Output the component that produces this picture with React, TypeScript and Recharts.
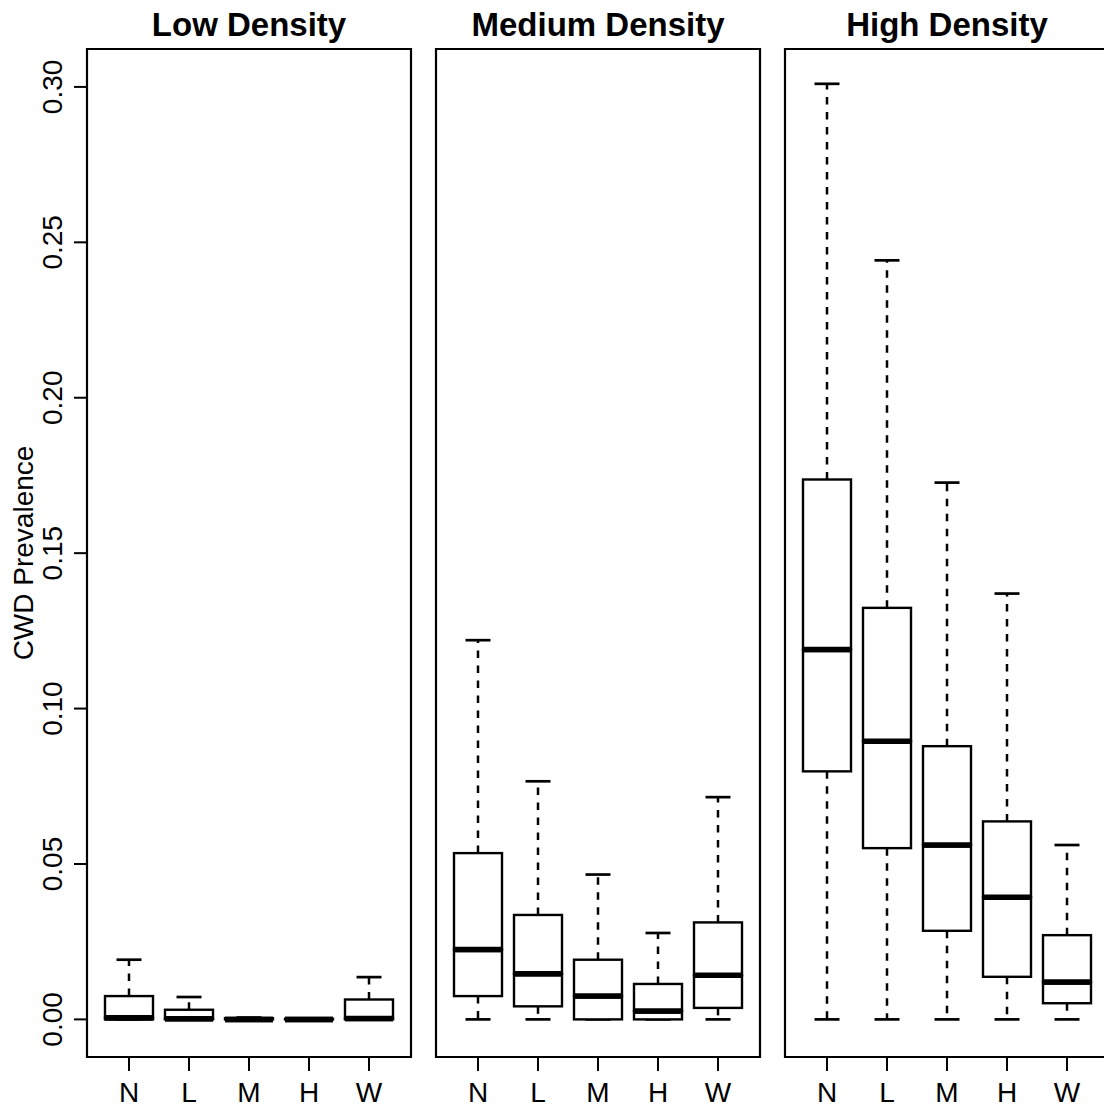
import React from 'react'
import { ComposedChart, Bar, XAxis, YAxis, ReferenceArea } from 'recharts'

// groups on the x axis, same for every panel
const groups = ['N', 'L', 'M', 'H', 'W']
const panelTitles = ['Low Density', 'Medium Density', 'High Density']
const yTicks = [0, 0.05, 0.1, 0.15, 0.2, 0.25, 0.3]

// box plot stats, order N L M H W
const lowMin = [0, 0, 0, 0, 0]
const lowQ1 = [0, 0, 0, 0, 0]
const lowMed = [0.0005, 0.0002, 0, 0, 0.0003]
const lowQ3 = [0.0075, 0.0031, 0.0004, 0.0002, 0.0064]
const lowMax = [0.0192, 0.0072, 0.0006, 0.0002, 0.0136]

const medMin = [0, 0, 0, 0, 0]
const medQ1 = [0.0075, 0.0042, 0, 0, 0.0037]
const medMed = [0.0225, 0.0147, 0.0075, 0.0027, 0.0142]
const medQ3 = [0.0535, 0.0336, 0.0192, 0.0114, 0.0312]
const medMax = [0.122, 0.0766, 0.0466, 0.0278, 0.0715]

const highMin = [0, 0, 0, 0, 0]
const highQ1 = [0.0798, 0.0551, 0.0285, 0.0137, 0.0052]
const highMed = [0.119, 0.0895, 0.0561, 0.0393, 0.012]
const highQ3 = [0.1737, 0.1324, 0.0879, 0.0637, 0.0271]
const highMax = [0.301, 0.2442, 0.1727, 0.137, 0.0561]

const Y_MIN = -0.0121
const Y_MAX = 0.3122
const X_MIN = 0.3
const X_MAX = 5.7
const FONT = '"Liberation Sans", Arial, Helvetica, sans-serif'

// stacked segments: base -> lower whisker -> lower box -> upper box -> upper whisker
const buildRows = (mn: number[], q1: number[], md: number[], q3: number[], mx: number[]) =>
  groups.map((g, i) => ({
    x: i + 1,
    name: g,
    base: mn[i],
    lowW: q1[i] - mn[i],
    lowBox: md[i] - q1[i],
    highBox: q3[i] - md[i],
    highW: mx[i] - q3[i]
  }))

const lowRows = buildRows(lowMin, lowQ1, lowMed, lowQ3, lowMax)
const medRows = buildRows(medMin, medQ1, medMed, medQ3, medMax)
const highRows = buildRows(highMin, highQ1, highMed, highQ3, highMax)

const CAP = 12.5
const DASH = '7.5 7.5'

const LowWhisker = (p: any) => {
  const { x, y, width, height } = p
  const cx = x + width / 2
  const bottom = y + height
  return (
    <g>
      {height > 0 && (
        <line x1={cx} x2={cx} y1={y} y2={bottom} stroke='#000' strokeWidth={2.5} strokeDasharray={DASH} />
      )}
      <line x1={cx - CAP} x2={cx + CAP} y1={bottom} y2={bottom} stroke='#000' strokeWidth={2.7} />
    </g>
  )
}

const HighWhisker = (p: any) => {
  const { x, y, width, height } = p
  const cx = x + width / 2
  const bottom = y + height
  return (
    <g>
      {height > 0 && (
        <line x1={cx} x2={cx} y1={bottom} y2={y} stroke='#000' strokeWidth={2.5} strokeDasharray={DASH} />
      )}
      <line x1={cx - CAP} x2={cx + CAP} y1={y} y2={y} stroke='#000' strokeWidth={2.7} />
    </g>
  )
}

const LowBox = (p: any) => {
  const { x, y, width, height } = p
  return (
    <g>
      <rect x={x} y={y} width={width} height={height} fill='#fff' stroke='#000' strokeWidth={2.4} />
      <line x1={x} x2={x + width} y1={y} y2={y} stroke='#000' strokeWidth={5.5} />
    </g>
  )
}

const HighBox = (p: any) => {
  const { x, y, width, height } = p
  return (
    <g>
      <rect x={x} y={y} width={width} height={height} fill='#fff' stroke='#000' strokeWidth={2.4} />
      <line x1={x} x2={x + width} y1={y + height} y2={y + height} stroke='#000' strokeWidth={5.5} />
    </g>
  )
}

const XTick = (p: any) => {
  const { x, y, payload } = p
  return (
    <text x={x} y={y + 29} textAnchor='middle' fontSize={28} fontFamily={FONT} fill='#000'>
      {groups[payload.value - 1]}
    </text>
  )
}

const YTick = (p: any) => {
  const { x, y, payload } = p
  return (
    <text
      transform={`translate(${x - 10}, ${y}) rotate(-90)`}
      textAnchor='middle'
      fontSize={28}
      fontFamily={FONT}
      fill='#000'
    >
      {payload.value.toFixed(2)}
    </text>
  )
}

const YLabel = (p: any) => {
  const vb = p.viewBox || { x: 0, y: 49, width: 87, height: 1008 }
  return (
    <text
      transform={`translate(33, ${vb.y + vb.height / 2}) rotate(-90)`}
      textAnchor='middle'
      fontSize={28}
      fontFamily={FONT}
      fill='#000'
    >
      CWD Prevalence
    </text>
  )
}

const Title = (p: any) => {
  const vb = p.viewBox || { x: 0, y: 49, width: 324, height: 1008 }
  return (
    <text
      x={vb.x + vb.width / 2}
      y={vb.y - 13}
      textAnchor='middle'
      fontSize={33}
      fontWeight='bold'
      fontFamily={FONT}
      fill='#000'
    >
      {p.text}
    </text>
  )
}

interface PanelProps {
  title: string
  rows: ReturnType<typeof buildRows>
  showY: boolean
  left: number
}

const Panel = ({ title, rows, showY, left }: PanelProps) => (
  <div style={{ position: 'absolute', left, top: 0 }}>
    <ComposedChart
      width={showY ? 413 : 328}
      height={1108}
      data={rows}
      margin={{ top: 49, right: 2, bottom: 0, left: showY ? 0 : 2 }}
    >
      <XAxis
        type='number'
        dataKey='x'
        domain={[X_MIN, X_MAX]}
        ticks={[1, 2, 3, 4, 5]}
        interval={0}
        allowDataOverflow
        height={51}
        axisLine={false}
        tickSize={14}
        tickLine={{ stroke: '#000', strokeWidth: 2 }}
        tick={<XTick />}
      />
      <YAxis
        type='number'
        domain={[Y_MIN, Y_MAX]}
        allowDataOverflow
        hide={!showY}
        width={87}
        ticks={yTicks}
        interval={0}
        tickSize={13}
        axisLine={false}
        tickLine={{ stroke: '#000', strokeWidth: 2 }}
        tick={<YTick />}
        label={<YLabel />}
      />
      <Bar dataKey='base' stackId='b' fill='none' barSize={48} isAnimationActive={false} />
      <Bar dataKey='lowW' stackId='b' barSize={48} shape={LowWhisker} isAnimationActive={false} />
      <Bar dataKey='lowBox' stackId='b' barSize={48} shape={LowBox} isAnimationActive={false} />
      <Bar dataKey='highBox' stackId='b' barSize={48} shape={HighBox} isAnimationActive={false} />
      <Bar dataKey='highW' stackId='b' barSize={48} shape={HighWhisker} isAnimationActive={false} />
      <ReferenceArea
        x1={X_MIN}
        x2={X_MAX}
        y1={Y_MIN}
        y2={Y_MAX}
        ifOverflow='visible'
        fill='none'
        fillOpacity={0}
        stroke='#000'
        strokeWidth={2.2}
        label={<Title text={title} />}
      />
    </ComposedChart>
  </div>
)

export default function App() {
  return (
    <div
      style={{
        position: 'absolute',
        left: 0,
        top: 0,
        width: 1104,
        height: 1108,
        overflow: 'hidden',
        background: '#fff'
      }}
    >
      <Panel title={panelTitles[0]} rows={lowRows} showY left={0} />
      <Panel title={panelTitles[1]} rows={medRows} showY={false} left={434} />
      <Panel title={panelTitles[2]} rows={highRows} showY={false} left={783} />
    </div>
  )
}
